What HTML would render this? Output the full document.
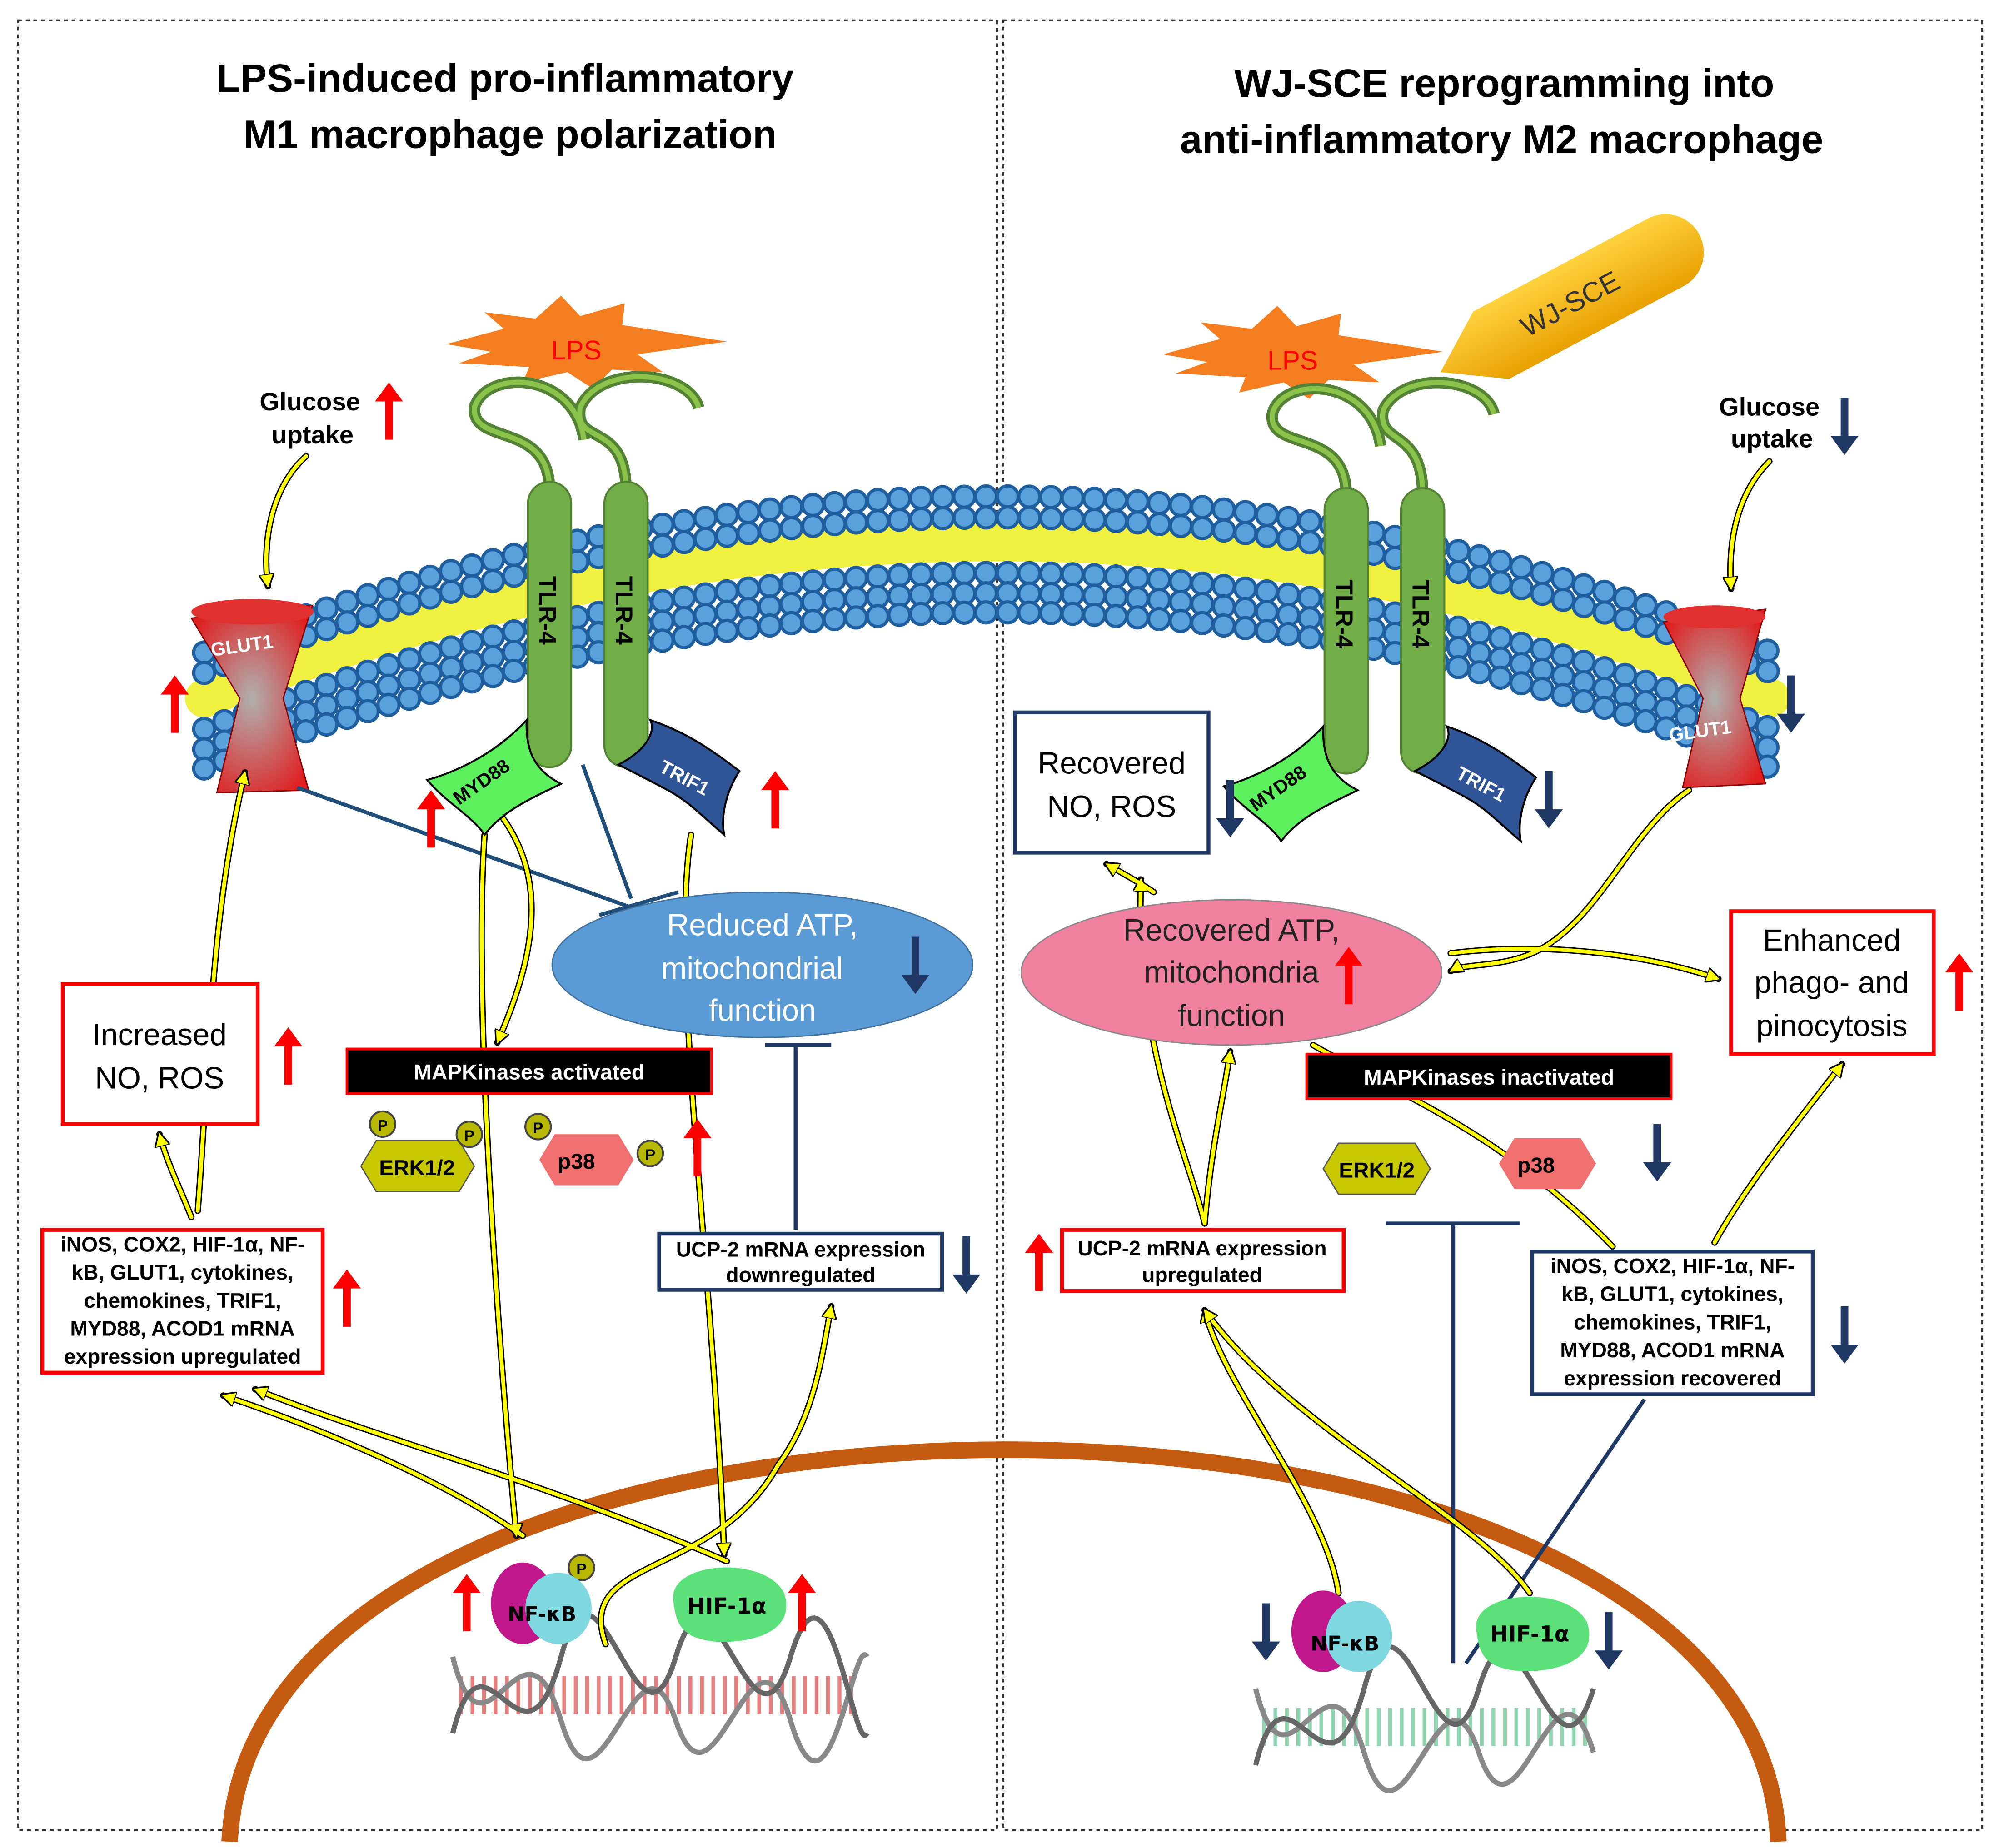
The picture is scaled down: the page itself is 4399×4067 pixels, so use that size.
<!DOCTYPE html>
<html><head><meta charset="utf-8"><style>
html,body{margin:0;padding:0;background:#fff}
svg{display:block}
text{font-family:"Liberation Sans",sans-serif}
.t{font-family:"DejaVu Sans","Liberation Sans",sans-serif}
</style></head><body>
<svg width="4399" height="4067" viewBox="0 0 1568 1450" xmlns="http://www.w3.org/2000/svg">
<defs>
<g id="upR"><polygon points="-3,45 3,45 3,15 11,15 0,0 -11,15 -3,15" fill="#ff0000"/></g>
<g id="dnB"><polygon points="-3,0 3,0 3,30 11,30 0,45 -11,30 -3,30" fill="#1f3864"/></g>
<marker id="ya" viewBox="0 0 10 10" refX="8" refY="5" markerWidth="4" markerHeight="4" orient="auto"><path d="M0,0 L10,5 L0,10 z" fill="#ffff00" stroke="#000" stroke-width="1"/></marker>
<radialGradient id="glut" cx="0.5" cy="0.5" r="0.6"><stop offset="0" stop-color="#b0b0b0"/><stop offset="1" stop-color="#e02020"/></radialGradient>
<linearGradient id="pen" x1="0" y1="0" x2="0" y2="1"><stop offset="0" stop-color="#ffd23f"/><stop offset="1" stop-color="#e8a000"/></linearGradient>
</defs>

<!-- panels -->
<rect x="14" y="16" width="768" height="1420" fill="none" stroke="#333" stroke-width="1.5" stroke-dasharray="3,3"/>
<rect x="787" y="16" width="768" height="1420" fill="none" stroke="#333" stroke-width="1.5" stroke-dasharray="3,3"/>

<text x="396" y="72" font-size="31" font-weight="bold" text-anchor="middle">LPS-induced pro-inflammatory</text>
<text x="400" y="116" font-size="31" font-weight="bold" text-anchor="middle">M1 macrophage polarization</text>
<text x="1180" y="76" font-size="31" font-weight="bold" text-anchor="middle">WJ-SCE reprogramming  into</text>
<text x="1178" y="120" font-size="31" font-weight="bold" text-anchor="middle">anti-inflammatory M2 macrophage</text>

<!-- membrane -->
<g fill="none" stroke-linecap="round">
<path d="M160,548 Q790,303 1390,548" stroke="#f0f040" stroke-width="30" stroke-dasharray="1,3"/>
<path d="M160,512 Q790,267 1390,512" stroke="#1f5f9f" stroke-width="19" stroke-dasharray="0,17"/>
<path d="M160,512 Q790,267 1390,512" stroke="#5aa0dc" stroke-width="14" stroke-dasharray="0,17"/>
<path d="M160,528 Q790,284 1390,528" stroke="#1f5f9f" stroke-width="19" stroke-dasharray="0,17"/>
<path d="M160,528 Q790,284 1390,528" stroke="#5aa0dc" stroke-width="14" stroke-dasharray="0,17"/>
<path d="M160,572 Q790,327 1390,572" stroke="#1f5f9f" stroke-width="19" stroke-dasharray="0,17"/>
<path d="M160,572 Q790,327 1390,572" stroke="#5aa0dc" stroke-width="14" stroke-dasharray="0,17"/>
<path d="M160,588 Q790,343 1390,588" stroke="#1f5f9f" stroke-width="19" stroke-dasharray="0,17"/>
<path d="M160,588 Q790,343 1390,588" stroke="#5aa0dc" stroke-width="14" stroke-dasharray="0,17"/>
<path d="M160,603 Q790,358 1390,603" stroke="#1f5f9f" stroke-width="19" stroke-dasharray="0,17"/>
<path d="M160,603 Q790,358 1390,603" stroke="#5aa0dc" stroke-width="14" stroke-dasharray="0,17"/>
</g>

<!-- nucleus -->
<path d="M180,1445 C200,1035 1380,1035 1395,1445" fill="none" stroke="#c55a11" stroke-width="13"/>

<!-- LPS stars -->
<polygon points="350,270 395,258 380,245 420,250 440,232 455,248 490,238 488,255 570,268 500,278 520,292 480,290 465,305 445,292 410,300 415,288 360,285 385,276" fill="#f47d20"/>
<text x="452" y="282" font-size="21" fill="#ff0000" text-anchor="middle">LPS</text>
<polygon points="912,278 957,266 942,253 982,258 1002,240 1017,256 1052,246 1050,263 1132,276 1062,286 1082,300 1042,298 1027,313 1007,300 972,308 977,296 922,293 947,284" fill="#f47d20"/>
<text x="1014" y="290" font-size="21" fill="#ff0000" text-anchor="middle">LPS</text>
<g transform="translate(1130,292) rotate(-28)">
<path d="M0,0 L45,-30 L200,-30 A30,30 0 0 1 200,30 L45,30 Z" fill="url(#pen)"/>
<text x="115" y="8" font-size="22" fill="#333" text-anchor="middle">WJ-SCE</text>
</g>

<!-- TLR hooks -->
<g fill="none" stroke="#548235" stroke-width="9">
<path d="M431,385 C431,330 370,350 372,320 C380,290 450,290 458,345 "/>
<path d="M491,385 C491,330 450,350 455,320 C470,285 540,290 548,320"/>
<path d="M1056,388 C1056,335 995,355 998,325 C1005,295 1075,295 1083,350"/>
<path d="M1116,388 C1116,335 1080,350 1085,322 C1100,290 1165,295 1172,325"/>
</g>
<g fill="none" stroke="#8bc34a" stroke-width="4">
<path d="M431,385 C431,330 370,350 372,320 C380,290 450,290 458,345 "/>
<path d="M491,385 C491,330 450,350 455,320 C470,285 540,290 548,320"/>
<path d="M1056,388 C1056,335 995,355 998,325 C1005,295 1075,295 1083,350"/>
<path d="M1116,388 C1116,335 1080,350 1085,322 C1100,290 1165,295 1172,325"/>
</g>
<g fill="#70ad47" stroke="#548235" stroke-width="1.5">
<rect x="414" y="378" width="34" height="224" rx="17"/>
<rect x="474" y="378" width="34" height="224" rx="17"/>
<rect x="1039" y="383" width="34" height="224" rx="17"/>
<rect x="1099" y="383" width="34" height="224" rx="17"/>
</g>
<g font-size="19" font-weight="bold">
<text transform="translate(423,452) rotate(90)">TLR-4</text>
<text transform="translate(483,452) rotate(90)">TLR-4</text>
<text transform="translate(1048,455) rotate(90)">TLR-4</text>
<text transform="translate(1108,455) rotate(90)">TLR-4</text>
</g>

<!-- GLUT1 -->
<path d="M150,485 L245,475 L222,548 L242,620 L170,622 L188,548 Z" fill="url(#glut)" stroke="#800" stroke-width="1"/>
<ellipse cx="198" cy="480" rx="48" ry="10" fill="#e03030"/>
<text x="166" y="515" font-size="15" font-weight="bold" fill="#fff" transform="rotate(-8 166 515)">GLUT1</text>
<path d="M1305,488 L1385,478 L1365,548 L1385,615 L1320,618 L1336,548 Z" fill="url(#glut)" stroke="#800" stroke-width="1"/>
<ellipse cx="1345" cy="484" rx="40" ry="9" fill="#e03030"/>
<text x="1310" y="582" font-size="15" font-weight="bold" fill="#fff" transform="rotate(-8 1310 582)">GLUT1</text>

<!-- navy inhibition lines -->
<g stroke="#1f4e79" stroke-width="3" fill="none">
<line x1="233" y1="618" x2="495" y2="712"/>
<line x1="457" y1="600" x2="495" y2="705"/>
<line x1="470" y1="718" x2="532" y2="700"/>
</g>
<g stroke="#1f3864" stroke-width="3">
<line x1="624" y1="820" x2="624" y2="965"/>
<line x1="600" y1="820" x2="652" y2="820"/>
<line x1="1140" y1="960" x2="1140" y2="1305"/>
<line x1="1087" y1="960" x2="1192" y2="960"/>
<line x1="1290" y1="1098" x2="1150" y2="1305"/>
</g>

<!-- DNA -->
<g fill="none" stroke-width="4">
<path d="M360,1330 H675" stroke="#c00" stroke-width="30" stroke-dasharray="3,6" opacity="0.5"/>
<path d="M355,1300 C380,1400 410,1250 440,1350 S500,1260 530,1350 S590,1250 620,1350 S670,1280 680,1300" stroke="#888"/>
<path d="M355,1360 C380,1260 410,1410 440,1300 S500,1400 530,1300 S590,1400 620,1300 S670,1380 680,1360" stroke="#666"/>
<path d="M990,1355 H1250" stroke="#2a6" stroke-width="30" stroke-dasharray="3,6" opacity="0.5"/>
<path d="M985,1325 C1010,1425 1040,1275 1070,1375 S1130,1285 1160,1375 S1220,1275 1250,1375" stroke="#888"/>
<path d="M985,1385 C1010,1285 1040,1435 1070,1325 S1130,1425 1160,1325 S1220,1425 1250,1325" stroke="#666"/>
</g>

<!-- yellow arrows (behind shapes) -->
<g fill="none" stroke-linecap="round">
<g stroke="#000" stroke-width="5">
<path d="M240,358 C215,380 205,420 210,460"/>
<path d="M1388,362 C1365,385 1355,420 1358,462"/>
<path d="M155,950 C165,820 165,720 192,606"/>
<path d="M150,955 C140,930 130,910 125,890"/>
<path d="M380,655 C370,800 395,1100 405,1205"/>
<path d="M393,640 C430,690 420,750 390,818"/>
<path d="M542,655 C525,760 560,1000 568,1220"/>
<path d="M410,1205 C330,1150 220,1110 175,1095"/>
<path d="M570,1225 C420,1160 300,1130 200,1090"/>
<path d="M475,1290 C450,1220 560,1240 610,1150 C640,1110 645,1060 652,1025"/>
<path d="M945,960 C930,900 890,820 895,690"/>
<path d="M945,960 C950,900 960,860 965,825"/>
<path d="M905,700 C890,690 880,685 868,678"/>
<path d="M1050,1250 C1040,1180 960,1090 945,1028"/>
<path d="M1200,1250 C1160,1190 1010,1120 945,1028"/>
<path d="M1030,820 C1100,860 1180,890 1265,978"/>
<path d="M1325,620 C1280,650 1255,720 1208,745 C1180,760 1150,755 1138,762"/>
<path d="M1138,748 C1200,740 1280,745 1348,768"/>
<path d="M1345,975 C1370,930 1410,880 1445,835"/>
</g>
<g stroke="#ffff00" stroke-width="3" marker-end="url(#ya)">
<path d="M240,358 C215,380 205,420 210,460"/>
<path d="M1388,362 C1365,385 1355,420 1358,462"/>
<path d="M155,950 C165,820 165,720 192,606"/>
<path d="M150,955 C140,930 130,910 125,890"/>
<path d="M380,655 C370,800 395,1100 405,1205"/>
<path d="M393,640 C430,690 420,750 390,818"/>
<path d="M542,655 C525,760 560,1000 568,1220"/>
<path d="M410,1205 C330,1150 220,1110 175,1095"/>
<path d="M570,1225 C420,1160 300,1130 200,1090"/>
<path d="M475,1290 C450,1220 560,1240 610,1150 C640,1110 645,1060 652,1025"/>
<path d="M945,960 C930,900 890,820 895,690"/>
<path d="M945,960 C950,900 960,860 965,825"/>
<path d="M905,700 C890,690 880,685 868,678"/>
<path d="M1050,1250 C1040,1180 960,1090 945,1028"/>
<path d="M1200,1250 C1160,1190 1010,1120 945,1028"/>
<path d="M1030,820 C1100,860 1180,890 1265,978" marker-end="none"/>
<path d="M1325,620 C1280,650 1255,720 1208,745 C1180,760 1150,755 1138,762"/>
<path d="M1138,748 C1200,740 1280,745 1348,768"/>
<path d="M1345,975 C1370,930 1410,880 1445,835"/>
</g>
</g>

<!-- MYD88 / TRIF1 -->
<path d="M335,612 C360,605 390,590 413,565 C412,590 420,605 440,615 C420,625 395,635 380,655 C370,640 350,630 335,612 Z" fill="#5df05d" stroke="#000" stroke-width="1.5"/>
<text x="360" y="632" font-size="15" font-weight="bold" transform="rotate(-35 360 632)">MYD88</text>
<path d="M485,600 C505,590 515,575 510,565 C540,575 560,590 580,605 C570,620 565,640 568,655 C550,640 540,628 520,618 C505,610 495,605 485,600 Z" fill="#2f5597" stroke="#000" stroke-width="1.5"/>
<text x="516" y="605" font-size="15" font-weight="bold" fill="#fff" transform="rotate(28 516 605)">TRIF1</text>
<path d="M960,617 C985,610 1015,595 1038,570 C1037,595 1045,610 1065,620 C1045,630 1020,640 1005,660 C995,645 975,635 960,617 Z" fill="#5df05d" stroke="#000" stroke-width="1.5"/>
<text x="985" y="637" font-size="15" font-weight="bold" transform="rotate(-35 985 637)">MYD88</text>
<path d="M1110,605 C1130,595 1140,580 1135,570 C1165,580 1185,595 1205,610 C1195,625 1190,645 1193,660 C1175,645 1165,633 1145,623 C1130,615 1120,610 1110,605 Z" fill="#2f5597" stroke="#000" stroke-width="1.5"/>
<text x="1141" y="610" font-size="15" font-weight="bold" fill="#fff" transform="rotate(28 1141 610)">TRIF1</text>

<!-- ellipses -->
<ellipse cx="598" cy="757" rx="165" ry="57" fill="#5b9bd5" stroke="#41719c" stroke-width="1"/>
<g font-size="24" fill="#fff" text-anchor="middle">
<text x="598" y="734">Reduced ATP,</text><text x="590" y="768">mitochondrial</text><text x="598" y="801">function</text></g>
<ellipse cx="966" cy="763" rx="165" ry="57" fill="#f080a0" stroke="#888" stroke-width="1"/>
<g font-size="24" fill="#222" text-anchor="middle">
<text x="966" y="738">Recovered ATP,</text><text x="966" y="771">mitochondria</text><text x="966" y="805">function</text></g>

<!-- boxes -->
<rect x="49" y="772" width="153" height="110" fill="#fff" stroke="#ff0000" stroke-width="3"/>
<text x="125" y="820" font-size="24" text-anchor="middle">Increased</text>
<text x="125" y="854" font-size="24" text-anchor="middle">NO, ROS</text>
<rect x="796" y="559" width="152" height="110" fill="#fff" stroke="#1f3864" stroke-width="3"/>
<text x="872" y="607" font-size="24" text-anchor="middle">Recovered</text>
<text x="872" y="641" font-size="24" text-anchor="middle">NO, ROS</text>
<rect x="1358" y="715" width="159" height="112" fill="#fff" stroke="#ff0000" stroke-width="3"/>
<g font-size="24" text-anchor="middle"><text x="1437" y="746">Enhanced</text><text x="1437" y="779">phago- and</text><text x="1437" y="813">pinocytosis</text></g>

<rect x="272" y="823" width="286" height="35" fill="#000" stroke="#ff0000" stroke-width="2"/>
<text x="415" y="847" font-size="17" font-weight="bold" fill="#fff" text-anchor="middle">MAPKinases activated</text>
<rect x="1025" y="827" width="286" height="35" fill="#000" stroke="#ff0000" stroke-width="2"/>
<text x="1168" y="851" font-size="17" font-weight="bold" fill="#fff" text-anchor="middle">MAPKinases inactivated</text>

<rect x="33" y="965" width="220" height="112" fill="#fff" stroke="#ff0000" stroke-width="3"/>
<g font-size="16.5" font-weight="bold" text-anchor="middle" class="t">
<text x="143" y="982">iNOS, COX2, HIF-1α, NF-</text><text x="143" y="1004">kB, GLUT1, cytokines,</text><text x="143" y="1026">chemokines, TRIF1,</text><text x="143" y="1048">MYD88, ACOD1 mRNA</text><text x="143" y="1070">expression upregulated</text></g>
<rect x="1202" y="982" width="220" height="112" fill="#fff" stroke="#1f3864" stroke-width="3"/>
<g font-size="16.5" font-weight="bold" text-anchor="middle" class="t">
<text x="1312" y="999">iNOS, COX2, HIF-1α, NF-</text><text x="1312" y="1021">kB, GLUT1, cytokines,</text><text x="1312" y="1043">chemokines, TRIF1,</text><text x="1312" y="1065">MYD88, ACOD1 mRNA</text><text x="1312" y="1087">expression recovered</text></g>

<rect x="517" y="968" width="222" height="44" fill="#fff" stroke="#1f3864" stroke-width="3"/>
<text x="628" y="986" font-size="16.5" font-weight="bold" text-anchor="middle">UCP-2 mRNA expression</text>
<text x="628" y="1006" font-size="16.5" font-weight="bold" text-anchor="middle">downregulated</text>
<rect x="833" y="965" width="221" height="48" fill="#fff" stroke="#ff0000" stroke-width="3"/>
<text x="943" y="985" font-size="16.5" font-weight="bold" text-anchor="middle">UCP-2 mRNA expression</text>
<text x="943" y="1006" font-size="16.5" font-weight="bold" text-anchor="middle">upregulated</text>

<!-- kinases -->
<polygon points="295,895 360,895 372,915 360,935 295,935 283,915" fill="#c8c800" stroke="#555"/>
<text x="327" y="922" font-size="17" font-weight="bold" text-anchor="middle">ERK1/2</text>
<polygon points="435,890 485,890 497,910 485,930 435,930 423,910" fill="#f07070"/>
<text x="452" y="917" font-size="17" font-weight="bold" text-anchor="middle">p38</text>
<polygon points="1050,897 1110,897 1122,917 1110,937 1050,937 1038,917" fill="#c8c800" stroke="#555"/>
<text x="1080" y="924" font-size="17" font-weight="bold" text-anchor="middle">ERK1/2</text>
<polygon points="1188,893 1240,893 1252,913 1240,933 1188,933 1176,913" fill="#f07070"/>
<text x="1205" y="920" font-size="17" font-weight="bold" text-anchor="middle">p38</text>
<g fill="#b8b800" stroke="#444" stroke-width="1.5">
<circle cx="300" cy="882" r="10"/><circle cx="368" cy="890" r="10"/><circle cx="422" cy="884" r="10"/><circle cx="510" cy="905" r="10"/><circle cx="456" cy="1230" r="10"/></g>
<g font-size="12" font-weight="bold" text-anchor="middle">
<text x="300" y="887">P</text><text x="368" y="895">P</text><text x="422" y="889">P</text><text x="510" y="910">P</text><text x="456" y="1235">P</text></g>

<!-- NF-kB / HIF -->
<ellipse cx="410" cy="1258" rx="25" ry="32" fill="#c0188c"/>
<ellipse cx="438" cy="1262" rx="26" ry="28" fill="#7fd8e0"/>
<text x="398" y="1272" font-size="16" font-weight="bold" class="t">NF-κB</text>
<path d="M528,1255 C525,1225 600,1220 615,1250 C625,1280 590,1290 560,1288 C535,1285 530,1275 528,1255Z" fill="#5ce07a"/>
<text x="570" y="1266" font-size="17" font-weight="bold" text-anchor="middle" class="t">HIF-1α</text>
<ellipse cx="1038" cy="1280" rx="25" ry="32" fill="#c0188c"/>
<ellipse cx="1066" cy="1284" rx="26" ry="28" fill="#7fd8e0"/>
<text x="1028" y="1295" font-size="16" font-weight="bold" class="t">NF-κB</text>
<path d="M1158,1278 C1155,1248 1230,1243 1245,1273 C1255,1303 1220,1313 1190,1311 C1165,1308 1160,1298 1158,1278Z" fill="#5ce07a"/>
<text x="1200" y="1288" font-size="17" font-weight="bold" text-anchor="middle" class="t">HIF-1α</text>

<!-- glucose -->
<text x="243" y="322" font-size="20" font-weight="bold" text-anchor="middle">Glucose</text>
<text x="245" y="348" font-size="20" font-weight="bold" text-anchor="middle">uptake</text>
<text x="1388" y="326" font-size="20" font-weight="bold" text-anchor="middle">Glucose</text>
<text x="1390" y="351" font-size="20" font-weight="bold" text-anchor="middle">uptake</text>

<!-- red up arrows -->
<use href="#upR" x="305" y="300"/>
<use href="#upR" x="137" y="530"/>
<use href="#upR" x="338" y="620"/>
<use href="#upR" x="608" y="605"/>
<use href="#upR" x="226" y="806"/>
<use href="#upR" x="547" y="878"/>
<use href="#upR" x="272" y="996"/>
<use href="#upR" x="366" y="1235"/>
<use href="#upR" x="629" y="1235"/>
<use href="#upR" x="1058" y="743"/>
<use href="#upR" x="1537" y="748"/>
<use href="#upR" x="815" y="968"/>
<!-- navy down arrows -->
<use href="#dnB" x="1447" y="312"/>
<use href="#dnB" x="1405" y="530"/>
<use href="#dnB" x="965" y="612"/>
<use href="#dnB" x="1215" y="605"/>
<use href="#dnB" x="718" y="735"/>
<use href="#dnB" x="1300" y="882"/>
<use href="#dnB" x="758" y="970"/>
<use href="#dnB" x="1447" y="1025"/>
<use href="#dnB" x="993" y="1258"/>
<use href="#dnB" x="1262" y="1265"/>
</svg>
</body></html>
